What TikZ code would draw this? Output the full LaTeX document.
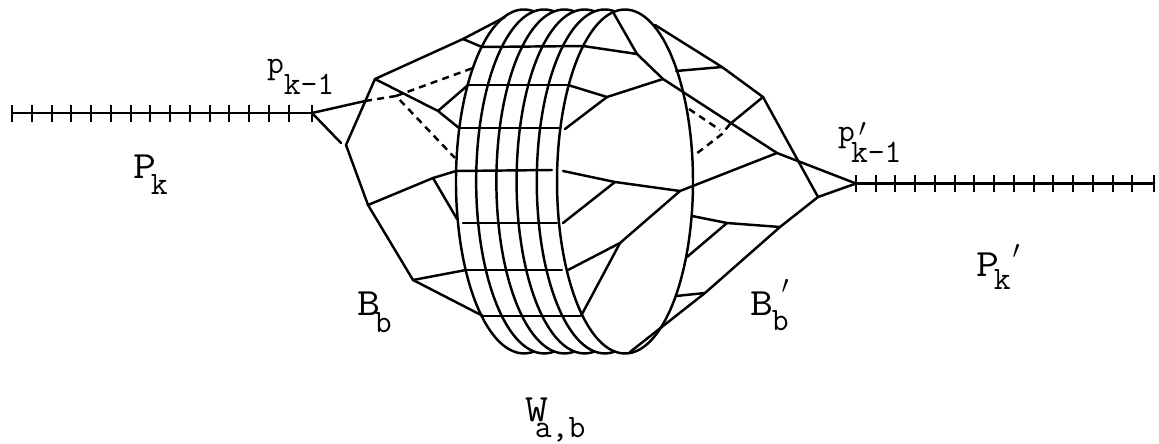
\documentclass[tikz,border=0pt]{standalone}
\newlength{\pxu}\setlength{\pxu}{0.02cm}
\newcommand{\mainsz}{\fontsize{22pt}{22pt}\selectfont\ttfamily}
\newcommand{\smsz}{\fontsize{18.6pt}{18.6pt}\selectfont\ttfamily}
% #1 main glyph, #2 subscript, #3 x shift of subscript, #4 drop of subscript (px units)
\newcommand{\lblmain}[4]{\scalebox{1.15}[1]{\mainsz #1}\kern#3\pxu\raisebox{-#4\pxu}{\smsz #2}}
\newcommand{\lblsmall}[4]{{\smsz #1}\kern#3\pxu\raisebox{-#4\pxu}{\smsz #2}}
\newcommand{\prm}[3]{\kern#1\pxu\raisebox{#2\pxu}{\fontsize{#3pt}{#3pt}\selectfont$\prime$}}
\tikzset{
  lw/.style={line width=1.4pt,line cap=round,line join=miter},
  dsh/.style={line width=1.4pt,dash pattern=on 4pt off 3pt},
  tick/.style={line width=1.4pt},
  lab/.style={inner sep=0pt,outer sep=0pt,anchor=base west},
}
\begin{document}
\begin{tikzpicture}[x=0.02cm,y=-0.02cm]
\useasboundingbox (0,0) rectangle (1159,443);
% path ends
\coordinate (pl0) at (12,113);
\coordinate (pl) at (312,113);
\coordinate (pr) at (856,183.5);
\coordinate (pr0) at (1154,183.5);
% left side junctions
\coordinate (L1) at (365,101);
\coordinate (L1d) at (396,96);
\coordinate (Ld1) at (455,158);
\coordinate (Ld2) at (473,68);
\coordinate (L2) at (341,143);
\coordinate (A) at (375,79);
\coordinate (B) at (346,145);
\coordinate (C) at (368,205);
\coordinate (D) at (413,280);
\coordinate (E) at (483,316);
\coordinate (F) at (463,39);
\coordinate (Ftop) at (505,17);
\coordinate (G) at (438,111);
\coordinate (H) at (433,178);
\coordinate (Hb) at (457,219);
% rungs
\coordinate (r1a) at (482,47);  \coordinate (r1b) at (583,46);
\coordinate (r2a) at (468,85);  \coordinate (r2b) at (568,85);
\coordinate (r3a) at (459,128); \coordinate (r3b) at (559,128);
\coordinate (r4a) at (456,171); \coordinate (r4b) at (552,170);
\coordinate (r5a) at (463,223); \coordinate (r5b) at (557,223);
\coordinate (r6a) at (466,270); \coordinate (r6b) at (562,270);
\coordinate (r7a) at (484,316); \coordinate (r7b) at (581,316);
% right side junctions
\coordinate (Q1) at (637,54);
\coordinate (Q0) at (613,12);
\coordinate (Q2) at (607,97);
\coordinate (Q3) at (663,79);
\coordinate (Q4) at (777,153);
\coordinate (Q5) at (680,191);
\coordinate (Q6) at (615,182);
\coordinate (Q7) at (620,243);
\coordinate (f1) at (565,129);
\coordinate (f2) at (563,171);
\coordinate (f3) at (563,223);
\coordinate (f4) at (568,270);
\coordinate (R0) at (655,25);
\coordinate (R1) at (722,67);
\coordinate (R2) at (763,97);
\coordinate (R3) at (818,197);
\coordinate (R4) at (780,227);
\coordinate (R5) at (705,293);
\coordinate (R6) at (630,352);
\coordinate (S1) at (676,71);
\coordinate (S2) at (730,124);
\coordinate (S3) at (722,134);
\coordinate (S4) at (696,154);
\coordinate (S5) at (689,109);
\coordinate (S6) at (720,130);
\coordinate (T1) at (727,223);
\coordinate (T2) at (692,216);
\coordinate (T3) at (687,257);
\coordinate (T4) at (676,296);
% paths with ticks
\draw[lw] (pl0) -- (pl);
\draw[lw] (pr) -- (pr0);
\foreach \x in {12,32,52,71,91,111,131,150,170,190,210,229,249,269,289,312}
  \draw[tick] (\x,105) -- (\x,121.5);
\foreach \x in {856,876,895,915,935,955,974,994,1014,1034,1053,1073,1093,1113,1132,1154}
  \draw[tick] (\x,175) -- (\x,192);
% wall
\foreach \c in {524,544.2,564.4,584.6,604.8}
  \draw[lw] (\c+10,11.4) arc[start angle=81.5,end angle=278.5,x radius=1.36cm,y radius=3.44cm];
\draw[lw] (625,181.5) ellipse[x radius=1.36cm,y radius=3.44cm];
% rungs
\foreach \i in {1,...,7} \draw[lw] (r\i a) -- (r\i b);
% left structure
\draw[lw] (pl) -- (L1);
\draw[lw] (pl) -- (L2);
\draw[lw] (B) -- (A) -- (F) -- (Ftop);
\draw[lw] (F) -- (r1a);
\draw[lw] (A) -- (G) -- (r3a);
\draw[lw] (G) -- (r2a);
\draw[lw] (B) -- (C) -- (D) -- (E);
\draw[lw] (C) -- (H) -- (r4a);
\draw[lw] (H) -- (Hb);
\draw[lw] (D) -- (r6a);
\draw[dsh] (L1) -- (L1d) -- (Ld1);
\draw[dsh] (L1d) -- (Ld2);
% right structure
\draw[lw] (r1b) -- (Q1);
\draw[lw] (Q0) -- (Q1) -- (Q3) -- (Q4) -- (pr);
\draw[lw] (r2b) -- (Q2) -- (Q3);
\draw[lw] (Q2) -- (f1);
\draw[lw] (f2) -- (Q6) -- (Q5) -- (Q4);
\draw[lw] (Q6) -- (f3);
\draw[lw] (Q5) -- (Q7) -- (f4);
\draw[lw] (Q7) -- (r7b);
\draw[lw] (R0) -- (R1) -- (R2) -- (R3) -- (pr);
\draw[lw] (R1) -- (S1);
\draw[lw] (R2) -- (S2);
\draw[lw] (R3) -- (R4) -- (R5) -- (R6);
\draw[lw] (R4) -- (T1) -- (T2);
\draw[lw] (T1) -- (T3);
\draw[lw] (R5) -- (T4);
\draw[dsh] (S2) -- (S3) -- (S4);
\draw[dsh] (S5) -- (S6);
% labels
\node[lab] (lPk) at (133,178) {\lblmain{P}{k}{-5}{16}};
\node[lab] (lpk) at (267,73) {\lblsmall{p}{k-1}{0}{21}};
\node[lab] (lpr) at (838,141) {\smsz p\prm{4}{5}{14}};
\node[lab] (lprs) at (851,162) {\smsz k-1};
\node[lab] (lPr) at (976,276) {\lblmain{P}{k}{-5}{13}\prm{2}{18}{15}};
\node[lab] (lB) at (357,315) {\lblmain{B}{b}{-5}{17}};
\node[lab] (lBr) at (750,315) {\lblmain{B}{b}{-1}{15}\prm{-7}{22}{15}};
\node[lab] (lW) at (525,421) {\lblmain{W}{a,b}{-13}{16}};
\end{tikzpicture}
\end{document}
